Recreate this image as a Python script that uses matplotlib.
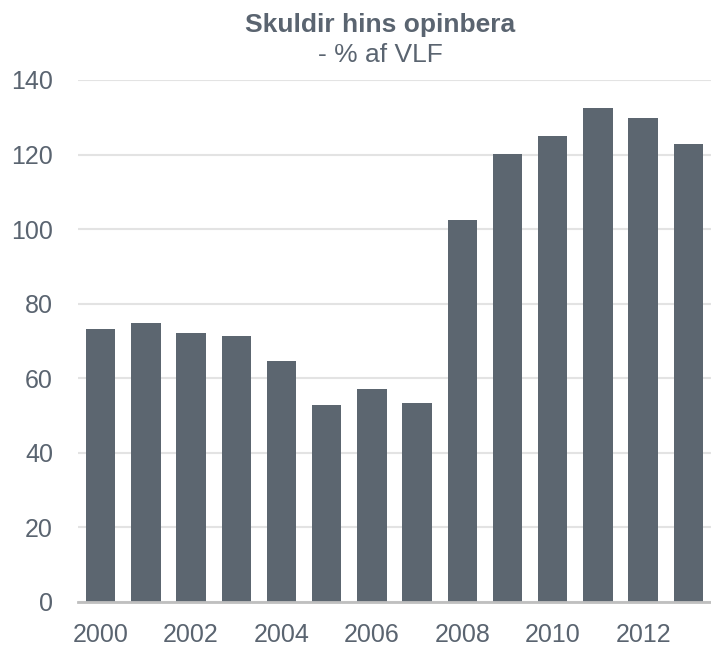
import matplotlib
matplotlib.use("Agg")
import matplotlib.pyplot as plt

years = ["2000", "2001", "2002", "2003", "2004", "2005", "2006",
         "2007", "2008", "2009", "2010", "2011", "2012", "2013"]
debt = [73.3, 74.9, 72.2, 71.2, 64.7, 52.9, 57.2, 53.4,
        102.3, 120.1, 125.0, 132.4, 129.8, 122.8]
yticks = [0, 20, 40, 60, 80, 100, 120, 140]
title = "Skuldir hins opinbera"
subtitle = "- % af VLF"

plt.rcParams['font.family'] = ['Liberation Sans', 'DejaVu Sans']
bar_color = "#5c6670"
text_color = "#5a6470"

fig = plt.figure(figsize=(7.11, 6.46), dpi=100)
ax = fig.add_axes([78/711, 44.3/646, 1 - 78/711, (601.7-80)/646])

x = list(range(len(years)))
ax.bar(x, debt, width=0.65, color=bar_color, zorder=3)
ax.set_xlim(-0.5, len(years) - 0.5)
ax.set_ylim(0, 140)
ax.set_yticks(yticks)
ax.set_yticklabels([str(v) for v in yticks])
ax.set_xticks(x[::2])
ax.set_xticklabels(years[::2])
ax.tick_params(axis='both', length=0, labelsize=18, colors=text_color)
ax.tick_params(axis='y', pad=18)
ax.tick_params(axis='x', pad=15)
ax.yaxis.grid(True, color="#e3e3e3", linewidth=1.5, zorder=0)
ax.set_axisbelow(True)
for s in ['top', 'right', 'left']:
    ax.spines[s].set_visible(False)
ax.spines['bottom'].set_color("#bfbfbf")
ax.spines['bottom'].set_linewidth(2)
ax.spines['bottom'].set_zorder(4)

fig.text(380/711, 1 - 32/646, title, ha='center', va='baseline',
         fontsize=19, fontweight='bold', color=text_color)
fig.text(380/711, 1 - 62/646, subtitle, ha='center', va='baseline',
         fontsize=19, color=text_color)

fig.savefig("out.png", dpi=100)
